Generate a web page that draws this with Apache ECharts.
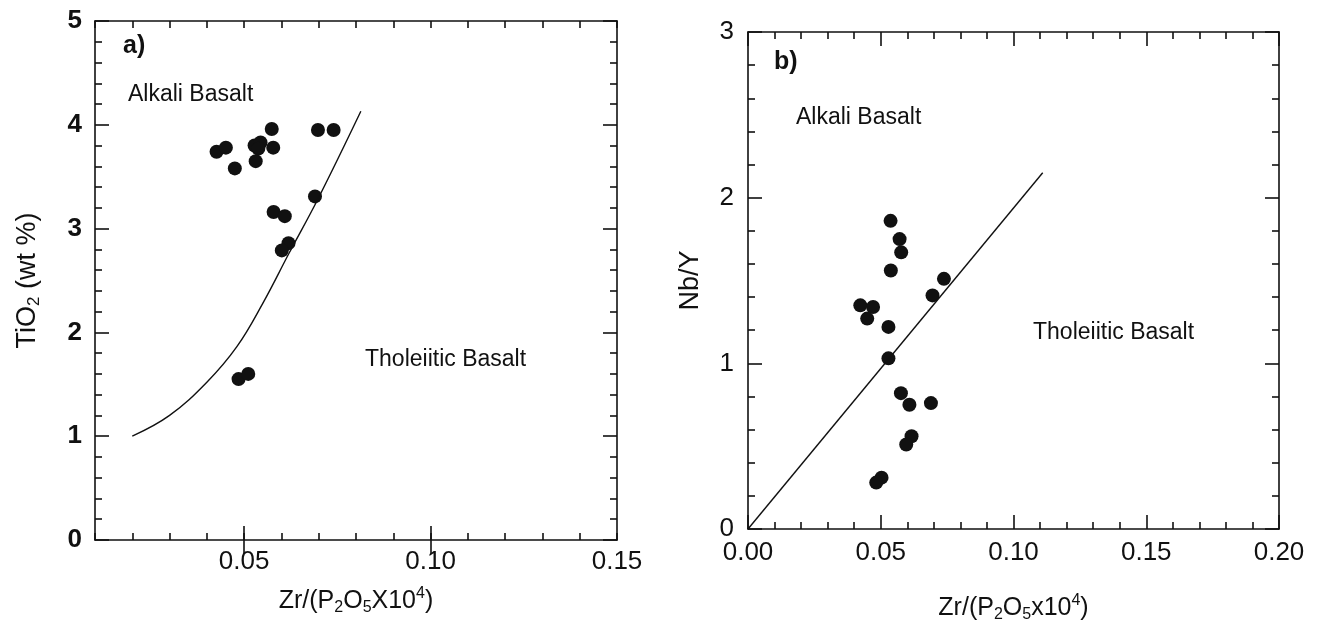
<!DOCTYPE html>
<html>
<head>
<meta charset="utf-8">
<script src="https://cdn.jsdelivr.net/npm/echarts@6/dist/echarts.min.js"></script>
<style>
  html, body { margin: 0; padding: 0; background: #fff; }
  #chart { width: 1320px; height: 629px; }
</style>
</head>
<body>
<div id="chart"></div>
<script>
// panel a) TiO2 vs Zr/(P2O5x10^4)
const tiX = [0.0426, 0.0451, 0.0475, 0.0528, 0.0544, 0.0538, 0.0531, 0.0574, 0.0578,
  0.0698, 0.0740, 0.0690, 0.0579, 0.0609, 0.0619, 0.0601, 0.0485, 0.0511]
const tiY = [3.74, 3.78, 3.58, 3.80, 3.83, 3.77, 3.65, 3.96, 3.78,
  3.95, 3.95, 3.31, 3.16, 3.12, 2.86, 2.79, 1.55, 1.60]
// boundary curve
const curveX = [0.020, 0.030, 0.040, 0.048, 0.055, 0.062, 0.070, 0.0813]
const curveY = [1.00, 1.20, 1.52, 1.86, 2.28, 2.76, 3.30, 4.13]

// panel b) Nb/Y vs Zr/(P2O5x10^4)
const nbX = [0.0537, 0.0571, 0.0577, 0.0538, 0.0738, 0.0695, 0.0423, 0.0471, 0.0449,
  0.0529, 0.0529, 0.0576, 0.0608, 0.0689, 0.0616, 0.0596, 0.0503, 0.0483]
const nbY = [1.86, 1.75, 1.67, 1.56, 1.51, 1.41, 1.35, 1.34, 1.27,
  1.22, 1.03, 0.82, 0.75, 0.76, 0.56, 0.51, 0.31, 0.28]
const lineX = [0, 0.111]
const lineY = [0, 2.15]

const xLabelsA = [0.05, 0.10, 0.15]
const xLongTicksA = [0.05, 0.10]

const font = "'Liberation Sans', Arial, sans-serif"
const black = '#111'

const zip = (xs, ys) => xs.map((x, i) => [x, ys[i]])

const lineStyle = { color: black, width: 1.6 }
const hidden = { show: false }

const rich = (size) => ({
  s: { fontSize: Math.round(size * 0.62), fontFamily: font, color: black, verticalAlign: 'bottom', padding: [14, 0, 0, 0] },
  p: { fontSize: Math.round(size * 0.62), fontFamily: font, color: black, verticalAlign: 'top', padding: [0, 0, 14, 0] }
})
const nameStyle = (size) => ({ fontSize: size, fontFamily: font, color: black, lineHeight: 30, rich: rich(size) })

// panel a axes
const xBase = (position) => ({
  type: 'value', gridIndex: 0, position, min: 0.01, max: 0.15, interval: 0.01,
  axisLine: { show: true, onZero: false, lineStyle },
  axisTick: { show: true, inside: true, length: 7, lineStyle },
  splitLine: hidden
})
const xLong = (position) => ({
  type: 'value', gridIndex: 0, position, min: 0.01, max: 0.15, interval: 0.01,
  axisLine: hidden, axisLabel: hidden, splitLine: hidden,
  axisTick: { show: true, inside: true, length: 14, customValues: xLongTicksA, lineStyle }
})

const yFrame = (gridIndex, position, max) => ({
  type: 'value', gridIndex, position, min: 0, max, interval: 1,
  axisLine: { show: true, onZero: false, lineStyle },
  axisTick: { show: true, inside: true, length: 14, lineStyle },
  minorTick: { show: true, splitNumber: 5, length: 7, lineStyle },
  splitLine: hidden, minorSplitLine: hidden,
  axisLabel: hidden
})

const xFrameB = (position) => ({
  type: 'value', gridIndex: 1, position, min: 0, max: 0.2, interval: 0.05,
  axisLine: { show: true, onZero: false, lineStyle },
  axisTick: { show: true, inside: true, length: 14, lineStyle },
  minorTick: { show: true, splitNumber: 5, length: 7, lineStyle },
  splitLine: hidden, minorSplitLine: hidden,
  axisLabel: hidden
})

const annot = (x, y, text, size, weight) => ({
  type: 'text', x, y,
  style: { text, font: (weight || 'normal') + ' ' + size + 'px ' + font, fill: black, verticalAlign: 'middle' }
})

const chart = echarts.init(document.getElementById('chart'))

chart.setOption({
  backgroundColor: '#fff',
  animation: false,
  textStyle: { fontFamily: font },
  grid: [
    { left: 95, top: 21, width: 522, height: 519, outerBoundsMode: 'none' },
    { left: 748, top: 32, width: 531, height: 497, outerBoundsMode: 'none' }
  ],
  xAxis: [
    Object.assign(xBase('bottom'), {
      axisLabel: {
        show: true, customValues: xLabelsA, fontSize: 26, color: black, margin: 9,
        fontFamily: font, formatter: v => v.toFixed(2)
      },
      name: 'Zr/(P{s|2}O{s|5}X10{p|4})', nameLocation: 'middle', nameGap: 46,
      nameTextStyle: nameStyle(25)
    }),
    xLong('bottom'),
    Object.assign(xBase('top'), { axisLabel: hidden }),
    xLong('top'),
    Object.assign(xFrameB('bottom'), {
      axisLabel: {
        show: true, fontSize: 26, color: black, margin: 11, fontFamily: font,
        formatter: v => v.toFixed(2)
      },
      name: 'Zr/(P{s|2}O{s|5}x10{p|4})', nameLocation: 'middle', nameGap: 64,
      nameTextStyle: nameStyle(25)
    }),
    xFrameB('top')
  ],
  yAxis: [
    Object.assign(yFrame(0, 'left', 5), {
      axisLabel: { show: true, fontSize: 26, fontWeight: 'bold', color: black, margin: 13, fontFamily: font },
      name: 'TiO{s|2} (wt %)', nameLocation: 'middle', nameGap: 52,
      nameTextStyle: nameStyle(27)
    }),
    yFrame(0, 'right', 5),
    Object.assign(yFrame(1, 'left', 3), {
      axisLabel: { show: true, fontSize: 26, color: black, margin: 14, fontFamily: font },
      name: 'Nb/Y', nameLocation: 'middle', nameGap: 42,
      nameTextStyle: nameStyle(27)
    }),
    yFrame(1, 'right', 3)
  ],
  series: [
    {
      type: 'line', xAxisIndex: 0, yAxisIndex: 0, data: zip(curveX, curveY),
      smooth: 0.4, showSymbol: false, lineStyle: { color: black, width: 1.4 }, silent: true
    },
    {
      type: 'scatter', xAxisIndex: 0, yAxisIndex: 0, data: zip(tiX, tiY),
      symbolSize: 14, itemStyle: { color: black, opacity: 1 }
    },
    {
      type: 'line', xAxisIndex: 4, yAxisIndex: 2, data: zip(lineX, lineY),
      showSymbol: false, lineStyle: { color: black, width: 1.4 }, silent: true
    },
    {
      type: 'scatter', xAxisIndex: 4, yAxisIndex: 2, data: zip(nbX, nbY),
      symbolSize: 14, itemStyle: { color: black, opacity: 1 }
    }
  ],
  graphic: [
    annot(123, 46, 'a)', 25, 'bold'),
    annot(128, 95, 'Alkali Basalt', 23),
    annot(365, 360, 'Tholeiitic Basalt', 23),
    annot(774, 62, 'b)', 25, 'bold'),
    annot(796, 118, 'Alkali Basalt', 23),
    annot(1033, 333, 'Tholeiitic Basalt', 23)
  ]
})
</script>
</body>
</html>
